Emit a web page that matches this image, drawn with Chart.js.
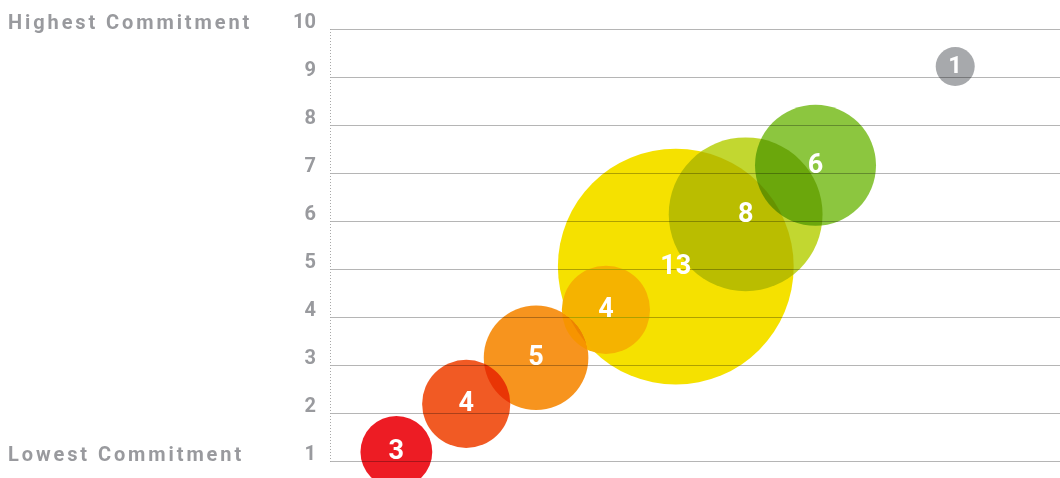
<!DOCTYPE html>
<html>
<head>
<meta charset="utf-8">
<script src="https://cdn.jsdelivr.net/npm/chart.js@4.4.1/dist/chart.umd.min.js"></script>
<style>
  html, body { margin: 0; padding: 0; background: #fff; }
  #caixa { width: 1060px; height: 478px; }
</style>
</head>
<body>
<div id="caixa"><canvas id="grafico" width="1060" height="478"></canvas></div>
<script>
//--------------------------------------------------
// DADOS
//--------------------------------------------------
const grupos = [1, 2, 3, 4, 5, 6, 7, 9];                                  // posição no eixo x
const compromisso = [1.19, 2.19, 3.15, 4.15, 5.05, 6.14, 7.16, 9.22];     // nível de compromisso
const quantidade = [3, 4, 5, 4, 13, 8, 6, 1];                             // nº de respostas
const niveis = [1, 2, 3, 4, 5, 6, 7, 8, 9, 10];
const rotulosLaterais = ["Highest Commitment", "Lowest Commitment"];

const cores = ["#ED1C24", "#F15A24", "#F7941E", "#F7B300", "#F5E100", "#C2D730", "#8CC63F", "#A7A9AC"];
const cinzaTexto = "#999A9E";

// raio da bolha em função da quantidade
const raio = n => 11.3 + 8.2 * n;

// a bolha âmbar usa "darken", as demais "multiply"
const idxEscurecer = [3];
const idxMultiplicar = [0, 1, 2, 4, 5, 6, 7];

const montar = idx => idx.map(i => ({ x: grupos[i], y: compromisso[i], r: raio(quantidade[i]), n: quantidade[i] }));

//--------------------------------------------------
// PLUGIN: FUNDO, MISTURA E RÓTULOS
//--------------------------------------------------
const pluginBolhas = {
    id: "bolhas",
    beforeDraw(chart) {
        const c = chart.ctx;
        c.save();
        c.fillStyle = "#fff";
        c.fillRect(0, 0, chart.width, chart.height);
        c.restore();
    },
    beforeDatasetsDraw(chart) {
        const c = chart.ctx;
        const a = chart.chartArea;

        // linha pontilhada do eixo y
        c.save();
        c.strokeStyle = "#A8A8A8";
        c.lineWidth = 1;
        c.setLineDash([1, 2]);
        c.beginPath();
        c.moveTo(a.left + 0.5, a.top);
        c.lineTo(a.left + 0.5, a.bottom + 2);
        c.stroke();
        c.restore();
    },
    beforeDatasetDraw(chart, args) {
        chart.ctx.save();
        chart.ctx.globalCompositeOperation = chart.data.datasets[args.index].mistura;
    },
    afterDatasetDraw(chart) {
        chart.ctx.restore();
    },
    afterDatasetsDraw(chart) {
        const c = chart.ctx;

        // números dentro das bolhas
        c.save();
        c.fillStyle = "#fff";
        c.textAlign = "center";
        c.textBaseline = "alphabetic";
        chart.data.datasets.forEach((ds, d) => {
            chart.getDatasetMeta(d).data.forEach((p, j) => {
                const n = ds.data[j].n;
                const tam = n === 1 ? 24 : 27;
                c.font = `bold ${tam}px Roboto`;
                c.fillText(String(n), p.x, p.y + tam * 0.355 - 2);
            });
        });
        c.restore();

        // textos à esquerda
        const y = chart.scales.y;
        c.save();
        c.fillStyle = cinzaTexto;
        c.font = "bold 20px Roboto";
        c.textAlign = "left";
        c.textBaseline = "alphabetic";
        c.letterSpacing = "2.9px";
        c.fillText(rotulosLaterais[0], 8, y.getPixelForValue(10));
        c.fillText(rotulosLaterais[1], 8, y.getPixelForValue(1));
        c.restore();
    }
};

//--------------------------------------------------
// GRÁFICO
//--------------------------------------------------
new Chart(document.getElementById("grafico"), {
    type: "bubble",
    data: {
        datasets: [
            {
                data: montar(idxEscurecer),
                backgroundColor: idxEscurecer.map(i => cores[i]),
                mistura: "darken",
                borderWidth: 0,
                hoverBorderWidth: 0,
                clip: false
            },
            {
                data: montar(idxMultiplicar),
                backgroundColor: idxMultiplicar.map(i => cores[i]),
                mistura: "multiply",
                borderWidth: 0,
                hoverBorderWidth: 0,
                clip: false
            }
        ]
    },
    options: {
        responsive: false,
        animation: false,
        events: [],
        layout: { autoPadding: false, padding: { top: 29, bottom: 17, left: 0, right: 0 } },
        plugins: { legend: { display: false }, tooltip: { enabled: false } },
        scales: {
            x: { type: "linear", display: false, min: 0.05, max: 10.5 },
            y: {
                type: "linear",
                min: 1,
                max: 10,
                afterFit: s => {
                    s.width = 330;
                    s.paddingTop = 0;
                    s.paddingBottom = 0;
                },
                afterBuildTicks: s => { s.ticks = niveis.map(v => ({ value: v })); },
                ticks: {
                    color: cinzaTexto,
                    font: { family: "Roboto", weight: "bold", size: 20 },
                    padding: 14,
                    labelOffset: -6,
                    autoSkip: false
                },
                grid: { color: "#B5B5B5", lineWidth: 1, drawTicks: false },
                border: { display: false }
            }
        }
    },
    plugins: [pluginBolhas]
});
</script>
</body>
</html>
